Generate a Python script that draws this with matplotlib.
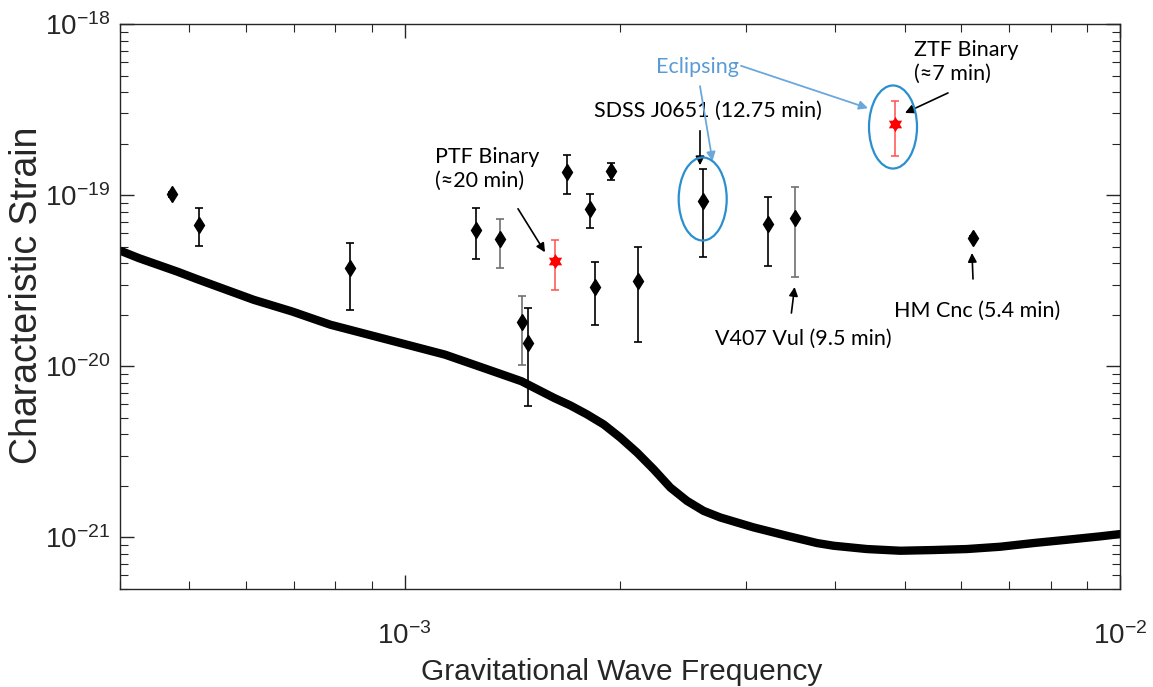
import matplotlib
matplotlib.use("Agg")
import matplotlib.pyplot as plt
from matplotlib.path import Path
from matplotlib.patches import Ellipse
from matplotlib.ticker import LogLocator, NullFormatter

# ---------------- data ----------------
# sensitivity curve
curve_f = [4.012e-4, 4.255e-4, 4.524e-4, 4.810e-4, 5.117e-4, 5.440e-4, 6.152e-4, 6.961e-4,
           7.873e-4, 8.906e-4, 1.0071e-3, 1.1387e-3, 1.288e-3, 1.4568e-3, 1.6166e-3,
           1.7053e-3, 1.7993e-3, 1.8979e-3, 2.0027e-3, 2.1135e-3, 2.2289e-3, 2.3518e-3,
           2.4814e-3, 2.6174e-3, 2.7618e-3, 3.0748e-3, 3.4227e-3, 3.771e-3, 3.978e-3,
           4.428e-3, 4.929e-3, 5.487e-3, 6.108e-3, 6.800e-3, 7.569e-3, 8.427e-3, 9.378e-3,
           1.0e-2]
curve_h = [4.718e-20, 4.279e-20, 3.911e-20, 3.575e-20, 3.241e-20, 2.951e-20, 2.446e-20,
           2.091e-20, 1.750e-20, 1.530e-20, 1.338e-20, 1.170e-20, 9.788e-21, 8.179e-21,
           6.545e-21, 5.903e-21, 5.233e-21, 4.574e-21, 3.828e-21, 3.131e-21, 2.502e-21,
           1.958e-21, 1.636e-21, 1.430e-21, 1.309e-21, 1.145e-21, 1.023e-21, 9.277e-22,
           8.947e-22, 8.559e-22, 8.366e-22, 8.445e-22, 8.559e-22, 8.828e-22, 9.277e-22,
           9.697e-22, 1.0148e-21, 1.0467e-21]

# binaries (black diamonds)
bin_f  = [4.73e-4, 5.16e-4, 8.38e-4, 1.257e-3, 1.36e-3, 1.459e-3, 1.487e-3, 1.684e-3,
          1.815e-3, 1.843e-3, 1.945e-3, 2.12e-3, 2.616e-3, 3.22e-3, 3.515e-3, 6.24e-3]
bin_h  = [1.01e-19, 6.69e-20, 3.73e-20, 6.28e-20, 5.55e-20, 1.82e-20, 1.37e-20, 1.36e-19,
          8.26e-20, 2.92e-20, 1.39e-19, 3.16e-20, 9.23e-20, 6.78e-20, 7.32e-20, 5.62e-20]
bin_lo = [0.97e-19, 5.05e-20, 2.14e-20, 4.25e-20, 3.77e-20, 1.02e-20, 5.9e-21, 1.01e-19,
          6.4e-20, 1.75e-20, 1.22e-19, 1.39e-20, 4.36e-20, 3.86e-20, 3.32e-20, 5.5e-20]
bin_hi = [1.05e-19, 8.44e-20, 5.26e-20, 8.4e-20, 7.25e-20, 2.58e-20, 2.18e-20, 1.71e-19,
          1.02e-19, 4.06e-20, 1.535e-19, 4.99e-20, 1.416e-19, 9.74e-20, 1.114e-19, 5.75e-20]
bin_gray = [False, False, False, False, True, True, False, False,
            False, False, False, False, False, False, True, False]

# new eclipsing binaries (red stars): PTF, ZTF
new_f  = [1.622e-3, 4.84e-3]
new_h  = [4.13e-20, 2.61e-19]
new_lo = [2.8e-20, 1.69e-19]
new_hi = [5.5e-20, 3.56e-19]

# ---------------- style ----------------
plt.rcParams['font.family'] = ['Liberation Sans', 'DejaVu Sans']
plt.rcParams['mathtext.default'] = 'regular'
plt.rcParams['axes.unicode_minus'] = False
axcol = '#262626'

fig = plt.figure(figsize=(11.53, 6.87), dpi=100)
ax = fig.add_axes([120/1153, 1-589/687, 1000/1153, 565/687])

ax.plot(curve_f, curve_h, color='black', lw=6, solid_capstyle='round',
        solid_joinstyle='round', zorder=2)

for f, h, lo, hi, g in zip(bin_f, bin_h, bin_lo, bin_hi, bin_gray):
    c = '#707070' if g else 'black'
    ax.errorbar([f], [h], yerr=[[h-lo], [hi-h]], fmt='none', ecolor=c, elinewidth=1.2,
                capsize=3, capthick=1.2, zorder=3)
ax.plot(bin_f, bin_h, linestyle='none', marker='d', markersize=8, color='black', zorder=4)

star = Path([(0, 1), (-0.866, -0.5), (0.866, -0.5), (0, 1),
             (0, -1), (0.866, 0.5), (-0.866, 0.5), (0, -1)],
            [Path.MOVETO, Path.LINETO, Path.LINETO, Path.CLOSEPOLY,
             Path.MOVETO, Path.LINETO, Path.LINETO, Path.CLOSEPOLY])
for f, h, lo, hi in zip(new_f, new_h, new_lo, new_hi):
    ax.errorbar([f], [h], yerr=[[h-lo], [hi-h]], fmt='none', ecolor='#ff5050', elinewidth=1.1,
                capsize=3, capthick=1.1, zorder=3)
ax.plot(new_f, new_h, linestyle='none', marker=star, markersize=11, color='red',
        markeredgewidth=0, zorder=4)

ax.set_xscale('log')
ax.set_yscale('log')
ax.set_xlim(4.0e-4, 1e-2)
ax.set_ylim(5.0e-22, 1e-18)

ax.xaxis.set_major_locator(LogLocator(base=10, numticks=10))
ax.yaxis.set_major_locator(LogLocator(base=10, numticks=10))
ax.xaxis.set_minor_locator(LogLocator(base=10, subs=range(2, 10), numticks=20))
ax.yaxis.set_minor_locator(LogLocator(base=10, subs=range(2, 10), numticks=20))
ax.xaxis.set_minor_formatter(NullFormatter())
ax.yaxis.set_minor_formatter(NullFormatter())
ax.tick_params(which='both', direction='in', top=True, right=True, colors=axcol,
               labelcolor=axcol, labelsize=20)
ax.tick_params(which='major', length=10, width=1.0)
ax.tick_params(axis='y', which='major', pad=7)
ax.tick_params(axis='x', which='major', pad=24)
ax.tick_params(which='minor', length=6, width=0.8)
for s in ax.spines.values():
    s.set_color(axcol)
    s.set_linewidth(1.0)

ax.set_xlabel('Gravitational Wave Frequency', fontsize=21.5, color=axcol, va='baseline')
ax.set_ylabel('Characteristic Strain', fontsize=27, color=axcol, va='center')
ax.xaxis.set_label_coords(0.502, -0.161)
ax.yaxis.set_label_coords(-0.093, 0.52)

# ---------------- annotations ----------------
afont = dict(family=['Lato', 'DejaVu Sans'], fontsize=15.5, color='black')
blue_e = '#2b8fcf'
blue_t = '#5b9bd5'
arrow_k = dict(arrowstyle='-|>', color='black', lw=1.2, mutation_scale=13, shrinkA=0, shrinkB=0)
arrow_b = dict(arrowstyle='-|>', color='#6aa8dc', lw=1.3, mutation_scale=13, shrinkA=0, shrinkB=0)
T = ax.transAxes

ax.text(0.315, 0.782, 'PTF Binary\n(≈20 min)', transform=T, ha='left', va='top',
        linespacing=1.25, **afont)
ax.annotate('', xy=(0.425, 0.596), xytext=(0.398, 0.673), xycoords=T, textcoords=T,
            arrowprops=arrow_k)

ax.text(0.5875, 0.846, 'SDSS J0651 (12.75 min)', transform=T, ha='center', va='center', **afont)
ax.annotate('', xy=(0.58, 0.750), xytext=(0.58, 0.811), xycoords=T, textcoords=T,
            arrowprops=arrow_k)

ax.text(0.577, 0.924, 'Eclipsing', transform=T, ha='center', va='center',
        family=['Lato', 'DejaVu Sans'], fontsize=15.5, color=blue_t)
ax.annotate('', xy=(0.5925, 0.7575), xytext=(0.58, 0.890), xycoords=T, textcoords=T,
            arrowprops=arrow_b)
ax.annotate('', xy=(0.748, 0.851), xytext=(0.621, 0.926), xycoords=T, textcoords=T,
            arrowprops=arrow_b)

ax.text(0.794, 0.972, 'ZTF Binary\n(≈7 min)', transform=T, ha='left', va='top',
        linespacing=1.25, **afont)
ax.annotate('', xy=(0.785, 0.8425), xytext=(0.828, 0.878), xycoords=T, textcoords=T,
            arrowprops=arrow_k)

ax.text(0.683, 0.4425, 'V407 Vul (9.5 min)', transform=T, ha='center', va='center', **afont)
ax.annotate('', xy=(0.6746, 0.5345), xytext=(0.6714, 0.4885), xycoords=T, textcoords=T,
            arrowprops=arrow_k)

ax.text(0.857, 0.492, 'HM Cnc (5.4 min)', transform=T, ha='center', va='center', **afont)
ax.annotate('', xy=(0.852, 0.5947), xytext=(0.853, 0.5487), xycoords=T, textcoords=T,
            arrowprops=arrow_k)

for cx, cy in [(0.5827, 0.6903), (0.773, 0.8177)]:
    ax.add_patch(Ellipse((cx, cy), 0.048, 0.147, transform=T, fill=False,
                         edgecolor=blue_e, lw=1.6, zorder=5))

fig.savefig('out.png', dpi=100)
